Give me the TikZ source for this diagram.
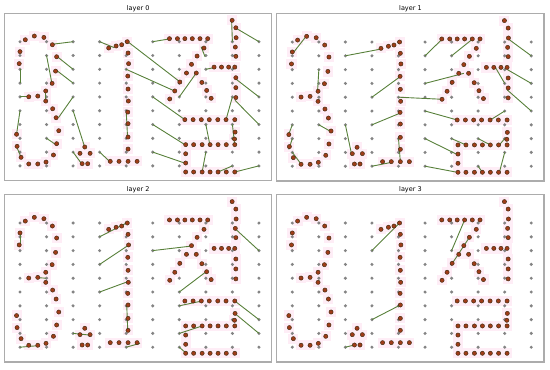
\documentclass[tikz,border=0pt]{standalone}
\usepackage{fontspec}
\setmainfont{DejaVu Sans}
\usepackage{tikz}
\usetikzlibrary{positioning}

\definecolor{dotgray}{RGB}{132,132,132}
\definecolor{dotred}{RGB}{160,60,24}
\definecolor{dotedge}{RGB}{72,48,22}
\definecolor{linkgreen}{RGB}{88,128,58}
\definecolor{halopink}{RGB}{254,237,246}
\definecolor{framegray}{RGB}{172,172,172}

% target glyph points, grid units (column, row)
\newcommand{\glyphpts}{%
  0.20/-0.14, 0.54/-0.41, 0.90/-0.31, 1.22/0.22, 0/0.72, -0.03/1.59,
  1.38/1.09, 1.34/2.13, 1.21/3.02, 0.97/3.57, 0.97/4.30, 0.67/3.94,
  0.33/3.99, 1.23/4.86, 1.36/5.51, 1.46/6.45, 1.38/7.39, 1.26/8.21,
  0.98/8.72, 0.67/8.86, 0.33/8.86, 0.04/8.38, -0.11/7.58, -0.13/6.71,
  2.44/7.63, 2.26/8.09, 2.64/8.09, 2.34/8.84, 2.55/8.84,
  3.34/0.46, 3.62/0.31, 3.83/0.22, 4.04/0, 4.07/0.82, 4.09/1.59,
  4.06/2.49, 4.07/3.43, 4.08/4.30, 4.06/5.10, 4.07/5.94, 4.07/6.91,
  4.07/7.78, 3.40/8.67, 3.73/8.67, 4.07/8.67, 4.41/8.67,
  5.63/-0.22, 5.93/-0.22, 6.21/-0.22, 6.49/-0.22, 6.78/-0.22, 7.07/-0.22,
  6.93/0.46, 6.67/1.04, 6.46/1.64, 6.27/2.27, 6.02/2.92, 5.83/3.57, 5.64/4.15,
  6.64/2.27, 6.85/2.95, 7.03/3.53, 7.20/4.10,
  7.31/1.84, 7.59/1.84, 7.86/1.84, 8.09/1.84,
  7.99/-1.55, 8.13/-1.01, 8.14/-0.29, 8.11/0.39, 8.13/1.06, 8.13/2.61,
  8.13/3.33, 8.13/4.05,
  6.21/5.65, 6.52/5.65, 6.83/5.65, 7.13/5.65, 7.45/5.65, 7.76/5.65, 8.09/5.65,
  8.10/6.55, 8.08/7.05,
  6.24/7.46, 6.54/7.46, 6.86/7.46, 7.16/7.46, 7.46/7.46, 7.77/7.46, 8.09/7.46,
  6.24/8.12, 6.24/8.79,
  6.24/9.44, 6.54/9.44, 6.86/9.44, 7.16/9.44, 7.46/9.44, 7.77/9.44, 8.09/9.44}

% one panel: grid origin x, grid origin y, layer number, links
\newcommand{\layerpanel}[4]{%
  \begin{scope}[shift={(#1,#2)}, x=26.55pt, y=-13.8pt]
    \draw[frame] (-0.59,-2.06) rectangle (9.48,10.07);
    \node[title] (title#3) at (4.45,-2.27) {layer #3};
    \foreach \gx/\gy in \glyphpts
      \fill[halopink] (\gx-0.19,\gy-0.37) rectangle (\gx+0.19,\gy+0.37);
    \foreach \i in {0,...,9}
      \foreach \j in {0,...,9}
        \fill[graydot] (\i,\j) circle (1.7pt);
    \foreach \ax/\ay/\bx/\by in {#4}
      \draw[link] (\ax,\ay) -- (\bx,\by);
    \foreach \gx/\gy in \glyphpts
      \filldraw[reddot] (\gx,\gy) circle (2.1pt);
  \end{scope}}

\begin{document}
\begin{tikzpicture}[x=1pt, y=-1pt,
    frame/.style={draw=framegray, line width=1.1pt},
    title/.style={anchor=base, inner sep=0pt, font=\fontsize{6.5}{7}\selectfont},
    graydot/.style={fill=dotgray},
    reddot/.style={fill=dotred, draw=dotedge, line width=0.5pt},
    link/.style={draw=linkgreen, line width=0.9pt}
]
    \useasboundingbox (0,0) rectangle (550,370);

    % layer 0
    \layerpanel{20}{41.7}{0}{1.19/0.19/2/0, 3/0/3.55/0.43, 4.06/0/6.03/2.92,
      5/0/5.62/-0.2, 1/1/1.2/3, 1.38/1.05/2/2, 1.36/2.05/2/3, 0/2/0/3,
      4/2/5.82/3.57, 6/4/6.64/2.27, 0/4/0.35/4, 2/4/1.45/5.5,
      0/5/-0.13/6.71, 2/5/2.43/7.6, 2/8/2.32/8.84, 1/7/1.38/7.5,
      -0.13/7.6/0.03/8.33, 3/8/3.39/8.7, 4/5/4.05/6.88, 5/4/6.21/5.65,
      5/6/6.21/7.46, 5/8/6.21/8.8, 6.82/0.36/6.97/1.09, 7/2/7.35/1.86,
      7.97/-1.55/8/0, 8.1/-1.02/9/0, 8.1/2.66/9/4, 8.1/4.25/9/6,
      8/4/7.76/5.65, 7/6/7.15/7.46, 8/6/8.08/7.37, 7/8/6.86/9.44,
      7.46/9.44/8/9, 8.09/9.44/9/9, 0.97/3.6/0.97/4.3}

    % layer 1
    \layerpanel{292.3}{42}{1}{0.04/0.77/0.54/-0.46, 1/2/0.95/3.6,
      2/1/3.34/0.51, 3/4/4.07/2.5, 3/6/4.04/5.17, 1/6/1.48/6.52,
      2/6/2.23/8.12, 0/6/-0.13/6.67, 0/7/-0.13/7.78, 0/8/0.33/8.84,
      3/9/3.74/8.72, 4/7/4.07/8.7, 4/4/5.64/4.15, 5/1/5.64/-0.2,
      6/1/6.78/-0.2, 5/3/6.46/2.27, 5/5/6.21/5.65, 5/7/6.21/8.15,
      6/7/6.54/7.46, 7/7/7.46/7.46, 7.46/5.65/8/5, 8/7/7.8/7.46,
      8/8/7.8/9.44, 7/9/7.16/9.44, 5/9/6.21/9.44, 8.1/-0.27/9/1,
      8.1/2/9/3, 8.1/3.48/9/5, 7.65/1.84/8/3}

    % layer 2
    \layerpanel{20}{223}{2}{0/0.7/0/1.59, 0.67/3.96/0.97/4, 0/9/0.67/8.89,
      2/8/2.62/8.12, 3/1/4.06/-0.05, 3/3/4.06/1.64, 3/5/4.06/4.25,
      4.02/5.94/4.06/7.87, 4/9/4.52/8.72, 5/2/6.46/1.67, 6/5/7.01/3.53,
      6/6/6.86/5.65, 6/8/6.86/7.46, 6/9/6.26/9.44, 8.09/0.39/9/2,
      8.09/5.65/9/7, 8.09/6.55/9/8}

    % layer 3
    \layerpanel{292.3}{223}{3}{2/9/2.34/8.84, 3/2/4.04/0, 3/7/4.07/5.94,
      6/2/6.49/-0.22, 6/3/6.67/1.04}
\end{tikzpicture}
\end{document}
